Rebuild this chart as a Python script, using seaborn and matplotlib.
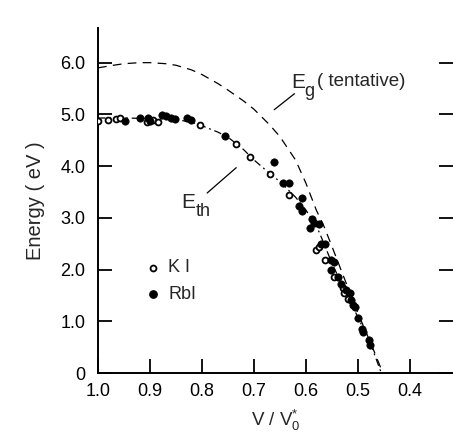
import matplotlib
matplotlib.use("Agg")
import matplotlib.pyplot as plt
import seaborn as sns
import pandas as pd

# KI (open circles)
ki_v = [1.000, 0.981, 0.966, 0.957, 0.906, 0.894, 0.885, 0.803, 0.734, 0.708, 0.669, 0.633,
        0.580, 0.574, 0.564, 0.545, 0.529, 0.526, 0.519]
ki_e = [4.88, 4.90, 4.91, 4.93, 4.86, 4.90, 4.86, 4.80, 4.42, 4.18, 3.85, 3.44,
        2.38, 2.44, 2.19, 1.86, 1.64, 1.54, 1.44]
# RbI (filled circles)
rbi_v = [0.949, 0.919, 0.904, 0.899, 0.877, 0.870, 0.859, 0.851, 0.828, 0.822, 0.756, 0.661,
         0.644, 0.633, 0.608, 0.614, 0.607, 0.588, 0.584, 0.575, 0.593, 0.571, 0.564, 0.551,
         0.545, 0.551, 0.538, 0.532, 0.522, 0.516, 0.513, 0.509, 0.506, 0.500, 0.493, 0.490,
         0.479, 0.476]
rbi_e = [4.88, 4.93, 4.93, 4.88, 4.99, 4.96, 4.93, 4.91, 4.93, 4.89, 4.58, 4.07,
         3.68, 3.68, 3.38, 3.22, 3.13, 2.97, 2.90, 2.88, 2.80, 2.50, 2.50, 2.19,
         2.15, 1.99, 1.86, 1.73, 1.61, 1.54, 1.41, 1.32, 1.28, 1.06, 0.86, 0.80,
         0.64, 0.54]
# E_g (tentative) curve
eg_v = [1.00, 0.97, 0.95, 0.92, 0.90, 0.87, 0.85, 0.82, 0.80, 0.77, 0.75, 0.72, 0.70, 0.67,
        0.65, 0.62, 0.60, 0.58, 0.565, 0.55, 0.53, 0.50, 0.47, 0.452]
eg_e = [5.90, 5.95, 5.98, 6.00, 6.00, 5.98, 5.95, 5.86, 5.77, 5.60, 5.47, 5.26, 5.10, 4.80,
        4.57, 4.12, 3.67, 3.15, 2.83, 2.45, 1.93, 1.16, 0.45, 0.0]
# E_th curve
eth_v = [1.00, 0.95, 0.90, 0.85, 0.82, 0.80, 0.77, 0.75, 0.72, 0.70, 0.67, 0.65, 0.62, 0.60,
         0.58, 0.565, 0.55, 0.53, 0.50, 0.475, 0.455]
eth_e = [4.93, 4.93, 4.92, 4.90, 4.85, 4.78, 4.66, 4.56, 4.32, 4.12, 3.86, 3.70, 3.40, 3.15,
         2.85, 2.50, 2.12, 1.70, 1.08, 0.55, 0.0]

xticks = [1.0, 0.9, 0.8, 0.7, 0.6, 0.5, 0.4]
xticklabels = ["1.0", "0.9", "0.8", "0.7", "0.6", "0.5", "0.4"]
yticks = [0, 1, 2, 3, 4, 5, 6]
yticklabels = ["0", "1.0", "2.0", "3.0", "4.0", "5.0", "6.0"]

sns.set_style("ticks")
plt.rcParams['font.family'] = ['Liberation Sans', 'DejaVu Sans']
plt.rcParams['mathtext.fontset'] = 'custom'
plt.rcParams['mathtext.rm'] = 'Liberation Sans'
plt.rcParams['mathtext.it'] = 'Liberation Sans'

fig = plt.figure(figsize=(4.53, 4.43), dpi=100)
ax = fig.add_axes([98/453, 1 - 373/443, 1 - 98/453, (373 - 28)/443])

sns.lineplot(x=eg_v, y=eg_e, sort=False, ax=ax, color="black", lw=0.9,
             linestyle=(0, (7, 5)))
sns.lineplot(x=eth_v, y=eth_e, sort=False, ax=ax, color="black", lw=0.9,
             linestyle=(0, (6, 3, 1.5, 3)))

sns.scatterplot(x=ki_v, y=ki_e, ax=ax, marker="o", s=18, facecolor="white",
                edgecolor="black", linewidth=1.3, zorder=3)
sns.scatterplot(x=rbi_v, y=rbi_e, ax=ax, marker="o", s=28, color="black",
                edgecolor="black", linewidth=0.5, zorder=4)

ax.set_xlim(1.0, 0.317)
ax.set_ylim(0, 6.67)
ax.set_xticks(xticks)
ax.set_xticklabels(xticklabels)
ax.set_yticks(yticks)
ax.set_yticklabels(yticklabels)
ax.tick_params(axis="both", direction="in", length=10, width=1.3, labelsize=13,
               colors="black", pad=7)
ax.tick_params(axis="y", right=True, labelright=False)
ax.tick_params(axis="y", which="major", pad=9)
for side in ["top", "right"]:
    ax.spines[side].set_visible(False)
for side in ["left", "bottom"]:
    ax.spines[side].set_linewidth(1.4)
    ax.spines[side].set_color("black")

ax.set_ylabel("Energy ( eV )", fontsize=14.5, labelpad=11)
ax.set_xlabel(r"V / V$_0^{*}$", fontsize=13.5, labelpad=6)

# curve labels
ax.text(0.628, 5.62, "E", fontsize=15, ha="left", va="center")
ax.text(0.603, 5.45, "g", fontsize=13, ha="left", va="center")
ax.text(0.578, 5.63, "( tentative)", fontsize=13.5, ha="left", va="center")
ax.plot([0.622, 0.661], [5.40, 5.09], color="black", lw=0.9)
ax.text(0.84, 3.3, "E", fontsize=15, ha="left", va="center")
ax.text(0.812, 3.12, "th", fontsize=13, ha="left", va="center")
ax.plot([0.79, 0.734], [3.48, 3.97], color="black", lw=0.9)

# legend
ax.scatter([0.894], [2.03], s=18, facecolor="white", edgecolor="black", linewidth=1.3)
ax.text(0.865, 2.03, "K I", fontsize=13, ha="left", va="center")
ax.scatter([0.894], [1.52], s=28, color="black")
ax.text(0.865, 1.52, "RbI", fontsize=13, ha="left", va="center")

fig.savefig("out.png", dpi=100)
